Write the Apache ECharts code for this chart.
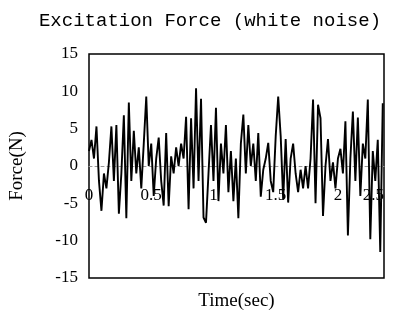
<!DOCTYPE html>
<html>
<head>
<meta charset="utf-8">
<script src="https://cdn.jsdelivr.net/npm/echarts@6/dist/echarts.min.js"></script>
<style>html,body{margin:0;padding:0;background:#fff;}#c{width:420px;height:321px;}</style>
</head>
<body>
<div id="c"></div>
<script>
const chartTitle = 'Excitation Force (white noise)';
const yAxisTitle = 'Force(N)';
const xAxisTitle = 'Time(sec)';
const xTickLabels = ['0', '0.5', '1', '1.5', '2', '2.5'];
const timeValues = [
  0,0.02,0.04,0.06,0.08,0.1,0.12,0.14,0.16,0.18,
  0.2,0.22,0.24,0.26,0.28,0.3,0.32,0.34,0.36,0.38,
  0.4,0.42,0.44,0.46,0.48,0.5,0.52,0.54,0.56,0.58,
  0.6,0.62,0.64,0.66,0.68,0.7,0.72,0.74,0.76,0.78,
  0.8,0.82,0.84,0.86,0.88,0.9,0.92,0.94,0.96,0.98,
  1,1.02,1.04,1.06,1.08,1.1,1.12,1.14,1.16,1.18,
  1.2,1.22,1.24,1.26,1.28,1.3,1.32,1.34,1.36,1.38,
  1.4,1.42,1.44,1.46,1.48,1.5,1.52,1.54,1.56,1.58,
  1.6,1.62,1.64,1.66,1.68,1.7,1.72,1.74,1.76,1.78,
  1.8,1.82,1.84,1.86,1.88,1.9,1.92,1.94,1.96,1.98,
  2,2.02,2.04,2.06,2.08,2.1,2.12,2.14,2.16,2.18,
  2.2,2.22,2.24,2.26,2.28,2.3,2.32,2.34,2.36
];
const forceValues = [
  2,3.5,1,5.3,-2,-6,-1,-3,0.5,5.3,
  -2,5.5,-6.4,-1,6.8,-7,8.5,-2,4.7,-1,
  2.5,-3,3,9.3,0,3,-4,1,3.8,-2,
  -5.3,4.4,-5.4,1.3,-1,2.5,0,3,1,6.6,
  -5.8,6.4,-3,10.4,-2,9,-6.9,-7.6,-1,5.5,
  -2,7.8,-4.7,3,-1,5.5,-3.5,2,-4.7,1,
  -7,3,6.9,-1,5.5,0,3,-2,4.4,-4.1,
  -0.5,1,3.1,-2,-3.5,4,9.3,4,-4.5,3.6,
  -4.9,1,3,-1,-3.5,-0.5,-3,0,-3,1,
  8.9,-5,8.2,6.4,-6.7,0,3.6,-2,0.5,-3,
  1,2.3,-1,6,-9.3,1,7.3,-2,6.5,-4,
  3,1,8.9,-9.8,2,-2,3.5,-11.5,8.4
];
const yTicks = { min: -15, max: 15, interval: 5 };

const seriesData = timeValues.map((t, i) => [t, forceValues[i]]);

const chart = echarts.init(document.getElementById('c'), null, { renderer: 'canvas' });
chart.setOption({
  animation: false,
  backgroundColor: '#fff',
  title: {
    text: chartTitle,
    left: 'center',
    top: 6,
    textStyle: { fontFamily: 'Liberation Mono', fontSize: 19, fontWeight: 'normal', color: '#000' }
  },
  grid: {
    left: 89, right: 36, top: 54, bottom: 43,
    containLabel: false,
    outerBoundsMode: 'none',
    show: true, borderColor: '#000', borderWidth: 1.5, backgroundColor: 'transparent'
  },
  xAxis: {
    type: 'value',
    min: 0,
    max: 2.37,
    interval: 0.5,
    name: xAxisTitle,
    nameLocation: 'middle',
    nameGap: 14,
    nameTextStyle: { fontFamily: 'Liberation Serif', fontSize: 19, color: '#000', verticalAlign: 'top' },
    axisLine: { onZero: true, lineStyle: { color: '#999', width: 1, type: [3, 3] } },
    axisTick: { show: false },
    splitLine: { show: false },
    axisLabel: {
      margin: -91,
      fontFamily: 'Liberation Serif', fontSize: 17, color: '#000',
      alignMaxLabel: 'right',
      formatter: v => (v > 2.25 ? xTickLabels[5] : xTickLabels[Math.round(v / 0.5)])
    }
  },
  yAxis: {
    type: 'value',
    min: yTicks.min, max: yTicks.max, interval: yTicks.interval,
    name: yAxisTitle,
    nameLocation: 'middle',
    nameGap: 62,
    nameRotate: 90,
    nameTextStyle: { fontFamily: 'Liberation Serif', fontSize: 19, color: '#000' },
    axisLine: { show: false },
    axisTick: { show: false },
    splitLine: { show: false },
    axisLabel: { margin: 11, fontFamily: 'Liberation Serif', fontSize: 17, color: '#000' }
  },
  series: [{
    type: 'line',
    data: seriesData,
    showSymbol: false,
    lineStyle: { color: '#000', width: 1.9 },
    z: 3
  }]
});
</script>
</body>
</html>
